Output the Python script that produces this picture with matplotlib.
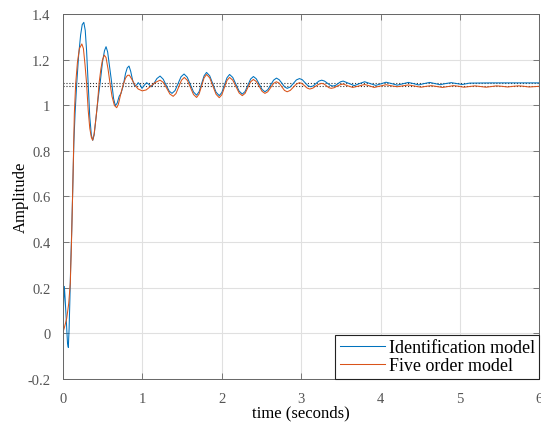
"""Step response of the identification model against the five order model."""

import matplotlib
matplotlib.use("Agg")
import matplotlib.pyplot as plt
from matplotlib.ticker import FormatStrFormatter

# identification model response
ident_t = [
    0.000, 0.010, 0.020, 0.030, 0.045, 0.060, 0.070, 0.080, 0.090, 0.100,
    0.113, 0.125, 0.140, 0.155, 0.176, 0.200, 0.225, 0.245, 0.265, 0.283,
    0.300, 0.320, 0.340, 0.360, 0.378, 0.395, 0.420, 0.445, 0.470, 0.500,
    0.525, 0.545, 0.565, 0.590, 0.617, 0.640, 0.662, 0.685, 0.710, 0.733,
    0.760, 0.790, 0.812, 0.834, 0.855, 0.880, 0.905, 0.930, 0.951, 0.975,
    0.997, 1.025, 1.056, 1.085, 1.115, 1.145, 1.185, 1.225, 1.265, 1.300,
    1.340, 1.375, 1.413, 1.451, 1.489, 1.527, 1.567, 1.606, 1.646, 1.685,
    1.716, 1.748, 1.779, 1.810, 1.850, 1.890, 1.930, 1.970, 2.003, 2.035,
    2.068, 2.100, 2.140, 2.180, 2.220, 2.260, 2.295, 2.330, 2.365, 2.400,
    2.436, 2.473, 2.509, 2.545, 2.581, 2.618, 2.654, 2.690, 2.724, 2.758,
    2.791, 2.825, 2.864, 2.903, 2.941, 2.980, 3.015, 3.050, 3.085, 3.120,
    3.155, 3.190, 3.225, 3.260, 3.295, 3.330, 3.365, 3.400, 3.433, 3.465,
    3.498, 3.530, 3.600, 3.670, 3.735, 3.800, 3.870, 3.940, 4.005, 4.070,
    4.140, 4.210, 4.280, 4.350, 4.415, 4.480, 4.550, 4.620, 4.685, 4.750,
    4.820, 4.890, 4.960, 5.030, 5.120, 5.400, 6.000,
]
ident_y = [
    0.000, 0.120, 0.205, 0.150, 0.050, -0.045, -0.063, 0.020, 0.150, 0.300,
    0.450, 0.620, 0.840, 0.965, 1.097, 1.220, 1.310, 1.355, 1.365, 1.330,
    1.240, 1.097, 0.950, 0.870, 0.847, 0.870, 0.950, 1.030, 1.097, 1.190,
    1.240, 1.258, 1.235, 1.170, 1.097, 1.030, 0.999, 1.010, 1.040, 1.053,
    1.085, 1.140, 1.165, 1.173, 1.150, 1.110, 1.085, 1.090, 1.100, 1.090,
    1.075, 1.088, 1.100, 1.092, 1.082, 1.095, 1.118, 1.129, 1.115, 1.090,
    1.063, 1.053, 1.065, 1.096, 1.126, 1.138, 1.124, 1.092, 1.059, 1.045,
    1.060, 1.095, 1.130, 1.145, 1.130, 1.094, 1.058, 1.043, 1.057, 1.090,
    1.122, 1.136, 1.123, 1.093, 1.063, 1.050, 1.061, 1.089, 1.116, 1.127,
    1.117, 1.094, 1.070, 1.060, 1.069, 1.090, 1.111, 1.120, 1.113, 1.098,
    1.082, 1.075, 1.081, 1.097, 1.112, 1.118, 1.113, 1.100, 1.087, 1.082,
    1.086, 1.097, 1.107, 1.111, 1.107, 1.098, 1.089, 1.085, 1.088, 1.096,
    1.104, 1.107, 1.097, 1.087, 1.096, 1.104, 1.096, 1.088, 1.095, 1.102,
    1.096, 1.089, 1.095, 1.101, 1.096, 1.090, 1.096, 1.101, 1.096, 1.091,
    1.096, 1.100, 1.096, 1.092, 1.098, 1.099, 1.099,
]

# five order model response
five_t = [
    0.000, 0.025, 0.050, 0.075, 0.095, 0.110, 0.125, 0.146, 0.163, 0.185,
    0.210, 0.240, 0.260, 0.280, 0.300, 0.320, 0.340, 0.360, 0.376, 0.395,
    0.420, 0.440, 0.457, 0.480, 0.500, 0.523, 0.545, 0.570, 0.595, 0.620,
    0.650, 0.679, 0.700, 0.730, 0.760, 0.790, 0.815, 0.838, 0.870, 0.910,
    0.950, 1.000, 1.050, 1.100, 1.160, 1.225, 1.266, 1.308, 1.349, 1.390,
    1.425, 1.460, 1.495, 1.530, 1.569, 1.608, 1.646, 1.685, 1.716, 1.748,
    1.779, 1.810, 1.850, 1.890, 1.930, 1.970, 2.003, 2.035, 2.068, 2.100,
    2.140, 2.180, 2.220, 2.260, 2.295, 2.330, 2.365, 2.400, 2.436, 2.473,
    2.509, 2.545, 2.581, 2.618, 2.654, 2.690, 2.724, 2.758, 2.791, 2.825,
    2.864, 2.903, 2.941, 2.980, 3.013, 3.045, 3.078, 3.110, 3.148, 3.185,
    3.223, 3.260, 3.290, 3.320, 3.350, 3.380, 3.418, 3.455, 3.493, 3.530,
    3.590, 3.650, 3.725, 3.800, 3.860, 3.920, 3.995, 4.070, 4.140, 4.210,
    4.280, 4.350, 4.430, 4.510, 4.575, 4.640, 4.710, 4.780, 4.850, 4.920,
    4.985, 5.050, 5.120, 5.190, 5.260, 5.330, 5.395, 5.460, 5.530, 5.600,
    5.670, 5.740, 5.805, 5.870, 6.000,
]
five_y = [
    0.000, 0.030, 0.065, 0.130, 0.220, 0.400, 0.620, 0.965, 1.097, 1.190,
    1.250, 1.270, 1.250, 1.180, 1.097, 0.980, 0.900, 0.860, 0.847, 0.875,
    0.950, 1.020, 1.097, 1.160, 1.200, 1.221, 1.210, 1.160, 1.097, 1.040,
    1.000, 0.990, 1.005, 1.050, 1.090, 1.120, 1.132, 1.133, 1.115, 1.088,
    1.072, 1.064, 1.068, 1.082, 1.100, 1.111, 1.101, 1.076, 1.050, 1.040,
    1.052, 1.082, 1.111, 1.123, 1.110, 1.079, 1.048, 1.035, 1.050, 1.086,
    1.121, 1.136, 1.121, 1.085, 1.049, 1.034, 1.047, 1.079, 1.110, 1.123,
    1.111, 1.083, 1.055, 1.043, 1.053, 1.079, 1.104, 1.114, 1.105, 1.084,
    1.062, 1.053, 1.060, 1.079, 1.097, 1.104, 1.098, 1.082, 1.066, 1.060,
    1.066, 1.080, 1.094, 1.100, 1.096, 1.086, 1.076, 1.072, 1.076, 1.085,
    1.093, 1.097, 1.094, 1.086, 1.078, 1.075, 1.078, 1.085, 1.091, 1.094,
    1.086, 1.079, 1.085, 1.092, 1.086, 1.079, 1.085, 1.091, 1.086, 1.082,
    1.086, 1.090, 1.085, 1.080, 1.084, 1.087, 1.083, 1.079, 1.083, 1.087,
    1.084, 1.080, 1.083, 1.086, 1.083, 1.080, 1.083, 1.086, 1.084, 1.081,
    1.084, 1.086, 1.084, 1.081, 1.084,
]

# final (steady-state) values
ident_final = 1.097
five_final = 1.084

x_ticks = [0, 1, 2, 3, 4, 5, 6]
y_ticks = [-0.2, 0, 0.2, 0.4, 0.6, 0.8, 1, 1.2, 1.4]

BLUE = "#0072BD"
ORANGE = "#D95319"

plt.rcParams["font.family"] = ["Liberation Serif", "DejaVu Serif"]

fig = plt.figure(figsize=(5.41, 4.27), dpi=100)
ax = fig.add_axes([0.116, 0.111, 0.881, 0.853])

ax.axhline(ident_final, color="#333333", linestyle=":", linewidth=0.8)
ax.axhline(five_final, color="#333333", linestyle=":", linewidth=0.8)

ax.plot(ident_t, ident_y, color=BLUE, linewidth=0.75, label="Identification model")
ax.plot(five_t, five_y, color=ORANGE, linewidth=0.75, label="Five order model")

ax.set_xlim(0, 6)
ax.set_ylim(-0.2, 1.4)
ax.set_xticks(x_ticks)
ax.set_yticks(y_ticks)
ax.yaxis.set_major_formatter(FormatStrFormatter("%g"))
ax.grid(True, color="#e0e0e0", linewidth=0.8)
ax.set_axisbelow(True)

for side in ax.spines.values():
    side.set_color("#666666")
    side.set_linewidth(0.7)
ax.tick_params(direction="in", length=4, width=0.6, color="#666666",
               labelcolor="#555555", labelsize=10.5,
               top=True, right=True)
ax.tick_params(axis="x", pad=10)
ax.tick_params(axis="y", pad=9)

ax.set_xlabel("time (seconds)", fontsize=12, labelpad=-1)
ax.set_ylabel("Amplitude", fontsize=12, labelpad=-1)

leg = ax.legend(loc="lower right", borderaxespad=0, fancybox=False,
                framealpha=1, edgecolor="#222222", fontsize=13,
                handlelength=2.5, handletextpad=0.2, borderpad=0.25,
                labelspacing=0.05)
leg.get_frame().set_linewidth(0.8)

fig.savefig("out.png", dpi=100)
